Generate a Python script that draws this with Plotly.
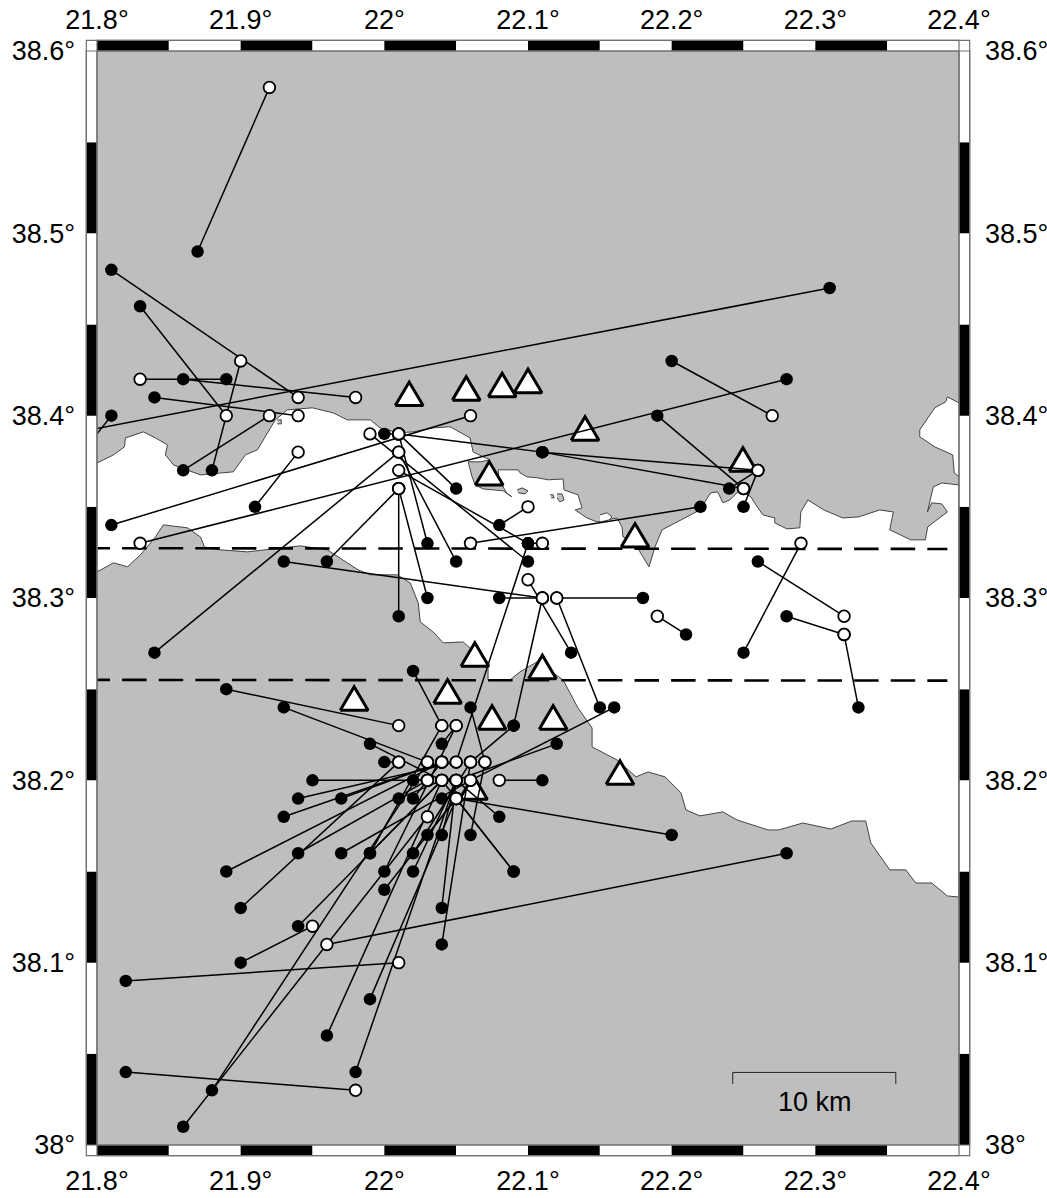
import plotly.graph_objects as go

LON_RANGE = [21.8, 22.4]
LAT_RANGE = [38.0, 38.6]
lon_ticks = [21.8, 21.9, 22.0, 22.1, 22.2, 22.3, 22.4]
lon_labels = ["21.8", "21.9", "22", "22.1", "22.2", "22.3", "22.4"]
lat_ticks = [38.0, 38.1, 38.2, 38.3, 38.4, 38.5, 38.6]
lat_labels = ["38", "38.1", "38.2", "38.3", "38.4", "38.5", "38.6"]

# Epicentre pairs: black (one solution) joined to white (other solution)
black_lon = [21.87,21.81,21.83,21.88,21.89,21.86,21.84,21.86,22.31,21.81,21.91,21.81,22.28,21.84,21.93,21.96,22.01,22.03,22.03,22.05,22.05,22.00,22.10,22.10,22.08,22.22,22.10,22.10,22.08,22.09,22.18,22.15,22.13,22.21,22.20,22.19,22.11,22.11,22.11,22.24,22.25,22.26,22.28,22.33,22.25,
             21.82,21.82,21.90,22.28,21.86,21.88,21.94,21.98,21.96,21.99,21.89,21.90,21.94,21.97,21.99,21.99,21.95,21.94,21.93,21.97,22.01,22.02,22.04,22.02,22.00,21.99,21.93,21.89,22.02,22.00,22.00,22.02,22.02,22.03,22.04,22.04,22.04,22.06,22.06,22.09,22.09,22.08,22.20,22.11,22.16,22.12,22.09,22.04]
black_lat = [38.49,38.48,38.46,38.37,38.42,38.42,38.41,38.37,38.47,38.40,38.35,38.34,38.42,38.27,38.32,38.32,38.29,38.30,38.33,38.32,38.36,38.39,38.32,38.33,38.34,38.35,38.33,38.33,38.30,38.23,38.30,38.24,38.27,38.28,38.43,38.40,38.38,38.38,38.38,38.36,38.35,38.32,38.29,38.24,38.27,
             38.04,38.09,38.10,38.16,38.01,38.03,38.12,38.04,38.06,38.08,38.15,38.13,38.16,38.16,38.16,38.16,38.20,38.19,38.18,38.19,38.19,38.19,38.19,38.20,38.21,38.22,38.24,38.25,38.26,38.15,38.14,38.15,38.16,38.17,38.17,38.13,38.11,38.17,38.24,38.15,38.15,38.18,38.17,38.20,38.24,38.22,38.23,38.22]
white_lon = [21.92,21.94,21.89,21.90,21.83,21.98,21.94,21.92,21.78,21.79,21.94,22.06,21.83,22.01,22.11,22.01,22.01,22.01,22.01,22.01,22.01,22.01,21.99,22.01,22.10,22.06,22.11,22.05,22.11,22.11,22.12,22.12,22.10,22.19,22.27,22.25,22.01,22.26,22.25,22.26,22.26,22.32,22.32,22.32,22.29,
             21.98,22.01,21.95,21.96,22.03,22.03,22.04,22.05,22.04,22.05,22.04,22.01,22.03,22.06,22.04,22.04,22.03,22.05,22.04,22.04,22.04,22.04,22.05,22.03,22.01,22.04,22.03,22.01,22.04,22.05,22.05,22.05,22.06,22.05,22.05,22.05,22.06,22.07,22.07,22.05,22.04,22.05,22.05,22.08,22.06,22.05,22.06,22.05]
white_lat = [38.58,38.41,38.40,38.43,38.42,38.41,38.40,38.40,38.39,38.38,38.38,38.40,38.33,38.38,38.30,38.36,38.36,38.36,38.39,38.38,38.39,38.39,38.39,38.37,38.35,38.33,38.33,38.21,38.30,38.30,38.30,38.30,38.31,38.29,38.40,38.36,38.39,38.37,38.36,38.37,38.37,38.29,38.28,38.28,38.33,
             38.03,38.10,38.12,38.11,38.18,38.21,38.20,38.20,38.20,38.19,38.21,38.21,38.20,38.20,38.20,38.23,38.20,38.21,38.21,38.21,38.20,38.21,38.19,38.20,38.21,38.20,38.21,38.23,38.23,38.23,38.19,38.20,38.21,38.19,38.20,38.20,38.21,38.21,38.21,38.19,38.20,38.20,38.19,38.20,38.20,38.20,38.21,38.23]

# Stations
station_lon = [22.0173,22.057,22.082,22.10,22.1397,22.073,22.1745,22.2496,22.063,22.11,22.044,21.979,22.075,22.1175,22.164,22.062]
station_lat = [38.4087,38.4117,38.4136,38.4158,38.3897,38.3651,38.3311,38.3727,38.2658,38.2589,38.2455,38.2416,38.2312,38.2312,38.201,38.1928]

# Sea outline: north coast eastwards, then south coast westwards
sea_lon = [21.8,21.8115,21.8191,21.8198,21.8323,21.8407,21.849,21.8476,21.8532,21.872,21.8949,21.9033,21.9116,21.9207,21.9241,21.9325,21.9499,21.9645,21.9742,21.9902,21.9971,22.0097,22.0201,22.034,22.0458,22.0597,22.0618,22.0702,22.0736,22.0667,22.0583,22.0611,22.0632,22.0688,22.0827,22.0889,22.0855,22.0799,22.0792,22.0931,22.0945,22.0994,22.107,22.114,22.1244,22.1251,22.1348,22.1376,22.1328,22.1411,22.1481,22.162,22.1654,22.1661,22.1752,22.1779,22.1842,22.1884,22.1933,22.2065,22.2197,22.2271,22.232,22.2357,22.2405,22.2475,22.2551,22.2586,22.2635,22.2718,22.2718,22.2802,22.2892,22.2899,22.2948,22.3059,22.3191,22.3302,22.3448,22.3543,22.3518,22.3664,22.3766,22.3782,22.3919,22.388,22.381,22.378,22.3821,22.388,22.4,
           22.4,22.3919,22.381,22.3699,22.363,22.3518,22.3386,22.3351,22.3254,22.3108,22.2913,22.2746,22.267,22.2454,22.2357,22.2197,22.2099,22.2065,22.1954,22.1835,22.1752,22.162,22.1446,22.1446,22.1348,22.1244,22.1063,22.0945,22.0875,22.0722,22.0722,22.0632,22.0549,22.041,22.034,22.025,22.0236,22.018,22.009,21.9902,21.9818,21.9603,21.9415,21.9186,21.9047,21.8859,21.8748,21.872,21.8629,21.8462,21.8407,21.8302,21.8212,21.8115,21.8]
sea_lat = [38.374,38.3785,38.3829,38.3878,38.3911,38.3878,38.384,38.3785,38.373,38.3675,38.3692,38.3785,38.3812,38.3933,38.3977,38.4032,38.4043,38.4015,38.3977,38.3977,38.3933,38.3906,38.3911,38.3933,38.3939,38.3878,38.3801,38.3769,38.3758,38.3747,38.3747,38.3664,38.362,38.3598,38.3588,38.3555,38.3571,38.3648,38.3703,38.3703,38.3686,38.3664,38.3659,38.3648,38.3653,38.3593,38.3566,38.3494,38.3483,38.3439,38.3417,38.3439,38.339,38.3335,38.3308,38.3253,38.3171,38.328,38.3374,38.3428,38.3483,38.3577,38.3582,38.3522,38.3538,38.3593,38.3555,38.3511,38.3456,38.3439,38.3412,38.3379,38.3385,38.3472,38.3538,38.3483,38.3439,38.3445,38.3483,38.3472,38.3374,38.3319,38.3319,38.339,38.3472,38.3516,38.3522,38.3472,38.3609,38.3631,38.362,
           38.136,38.1366,38.1437,38.1437,38.1509,38.1509,38.1657,38.1777,38.1777,38.1733,38.1766,38.1728,38.1728,38.1783,38.1827,38.1805,38.1838,38.1931,38.2019,38.2046,38.2019,38.2112,38.2183,38.2287,38.2397,38.2551,38.265,38.2595,38.2551,38.2551,38.2617,38.2699,38.2759,38.2754,38.2814,38.2869,38.2973,38.3083,38.3127,38.3127,38.3154,38.3264,38.3286,38.3264,38.3253,38.3264,38.328,38.3335,38.3385,38.3401,38.3335,38.3236,38.3171,38.3193,38.3143]

inlet_lon = [22.4,22.3919,22.3908,22.3831,22.3727,22.3727,22.3831,22.3956,22.3967,22.4]
inlet_lat = [38.407,38.4103,38.4076,38.4043,38.3922,38.3884,38.3829,38.3785,38.3686,38.3664]

lake_lon = [22.1502,22.155,22.1585,22.1564,22.1502]
lake_lat = [38.3456,38.3467,38.3445,38.3428,38.3417]

islet_a_lon = [22.0924,22.0959,22.1,22.098,22.0931]
islet_a_lat = [38.3593,38.3604,38.3588,38.3571,38.3577]
islet_b_lon = [22.1202,22.1237,22.1251,22.1223,22.1202]
islet_b_lat = [38.3571,38.3571,38.3538,38.3527,38.3549]
islet_c_lon = [22.1154,22.1175,22.1182,22.1161]
islet_c_lat = [38.3566,38.3566,38.3549,38.3549]
islet_d_lon = [21.9255,21.9283,21.9283,21.9255]
islet_d_lat = [38.3977,38.3977,38.3955,38.3955]

# Dashed boundaries
dash_a_lon = [21.792, 22.3919]
dash_a_lat = [38.3273, 38.3269]
dash_b_lon = [21.792, 22.3919]
dash_b_lat = [38.2551, 38.2547]

# Scale bar
scale_lon = [22.2425, 22.2425, 22.356, 22.356]
scale_lat = [38.0335, 38.0398, 38.0398, 38.0335]

# Page geometry
W, H = 1047, 1198
ML, MR, MT, MB = 96.5, 87.7, 51, 53
FRAME = 10.7
LAND = "#bebebe"
COAST = "#444444"
EDGE = "#707070"

pw, ph = W - ML - MR, H - MT - MB
fx, fy = FRAME / pw, FRAME / ph
deg_per_px_x = (LON_RANGE[1] - LON_RANGE[0]) / pw
deg_per_px_y = (LAT_RANGE[1] - LAT_RANGE[0]) / ph

fig = go.Figure()


def poly(lon, lat, fill):
    fig.add_trace(go.Scatter(x=lon, y=lat, mode="lines", fill="toself", fillcolor=fill,
                             line=dict(color=COAST, width=1), hoverinfo="skip"))


poly(sea_lon, sea_lat, "white")
poly(inlet_lon, inlet_lat, "white")
poly(lake_lon, lake_lat, "white")
poly(islet_a_lon, islet_a_lat, LAND)
poly(islet_b_lon, islet_b_lat, LAND)
poly(islet_c_lon, islet_c_lat, LAND)
poly(islet_d_lon, islet_d_lat, LAND)

for lo, la in ((dash_a_lon, dash_a_lat), (dash_b_lon, dash_b_lat)):
    fig.add_trace(go.Scatter(x=lo, y=la, mode="lines",
                             line=dict(color="black", width=2.6, dash="24.5px,12.1px")))

# Station triangles: Plotly's triangle symbol is too flat, so each is outlined around its station
TRI_HALF, TRI_UP, TRI_DOWN = 13.9, 17.7, 5.8
for slon, slat in zip(station_lon, station_lat):
    dx = TRI_HALF * deg_per_px_x
    up, down = TRI_UP * deg_per_px_y, TRI_DOWN * deg_per_px_y
    fig.add_trace(go.Scatter(x=[slon - dx, slon + dx, slon, slon - dx],
                             y=[slat - down, slat - down, slat + up, slat - down],
                             mode="lines", fill="toself", fillcolor="white",
                             line=dict(color="black", width=3), hoverinfo="skip"))

link_x, link_y = [], []
for a, b, c, d in zip(black_lon, black_lat, white_lon, white_lat):
    link_x += [a, c, None]
    link_y += [b, d, None]
fig.add_trace(go.Scatter(x=link_x, y=link_y, mode="lines", line=dict(color="black", width=1.5)))

fig.add_trace(go.Scatter(x=black_lon, y=black_lat, mode="markers",
                         marker=dict(size=12.5, color="black", line=dict(width=0))))
fig.add_trace(go.Scatter(x=white_lon, y=white_lat, mode="markers",
                         marker=dict(size=11.6, color="white", line=dict(color="black", width=1.8))))

fig.add_trace(go.Scatter(x=scale_lon, y=scale_lat, mode="lines", line=dict(color="#222222", width=1)))

# Invisible trace so the top and right axes are drawn
fig.add_trace(go.Scatter(x=[22.1], y=[38.3], xaxis="x2", yaxis="y2", mode="markers",
                         marker=dict(size=1, opacity=0), hoverinfo="skip"))

shapes = []
# Checker frame: alternating 0.05 degree segments
n_seg = 12
for i in range(n_seg):
    col = "black" if i % 2 == 0 else "white"
    x0, x1 = i / n_seg, (i + 1) / n_seg
    for y0, y1 in ((1, 1 + fy), (-fy, 0)):
        shapes.append(dict(type="rect", xref="paper", yref="paper", x0=x0, x1=x1, y0=y0, y1=y1,
                           fillcolor=col, line=dict(width=0)))
    for xa, xb in ((-fx, 0), (1, 1 + fx)):
        shapes.append(dict(type="rect", xref="paper", yref="paper", x0=xa, x1=xb, y0=x0, y1=x1,
                           fillcolor=col, line=dict(width=0)))
# Outer and inner frame lines
for (a, b, c, d) in ((-fx, 1 + fx, -fy, 1 + fy), (0, 1, 0, 1), (-fx, 1 + fx, 0, 1), (0, 1, -fy, 1 + fy)):
    shapes.append(dict(type="rect", xref="paper", yref="paper", x0=a, x1=b, y0=c, y1=d,
                       fillcolor="rgba(0,0,0,0)", line=dict(color=EDGE, width=1.2)))

font = dict(family="Liberation Sans, Arial, sans-serif", size=27, color="black")


def deg(labels):
    return [f"{t}°" for t in labels]


x_common = dict(range=LON_RANGE, tickmode="array", tickvals=lon_ticks, ticktext=deg(lon_labels),
                showgrid=False, zeroline=False, showline=False, ticks="", tickfont=font,
                tickangle=0, automargin=False)
y_common = dict(range=LAT_RANGE, tickmode="array", tickvals=lat_ticks, ticktext=deg(lat_labels),
                showgrid=False, zeroline=False, showline=False, ticks="", tickfont=font,
                tickangle=0, automargin=False)

fig.update_layout(
    width=W, height=H,
    margin=dict(l=ML, r=MR, t=MT, b=MB, pad=0, autoexpand=False),
    paper_bgcolor="white", plot_bgcolor=LAND,
    showlegend=False,
    hovermode=False,
    shapes=shapes,
    xaxis=dict(**x_common, side="bottom", ticklabelstandoff=17),
    yaxis=dict(**y_common, side="left", ticklabelstandoff=21),
    xaxis2=dict(**x_common, side="top", overlaying="x", anchor="y", ticklabelstandoff=16),
    yaxis2=dict(**y_common, side="right", overlaying="y", anchor="x", ticklabelstandoff=25),
    annotations=[dict(x=22.30, y=38.0235, xref="x", yref="y", text="10 km", showarrow=False,
                      font=dict(family="Liberation Sans, Arial, sans-serif", size=27, color="black"))],
)

fig.write_html("out.html", config={"displayModeBar": False},
               post_script="document.body.style.margin='0';document.body.style.overflow='hidden';")
